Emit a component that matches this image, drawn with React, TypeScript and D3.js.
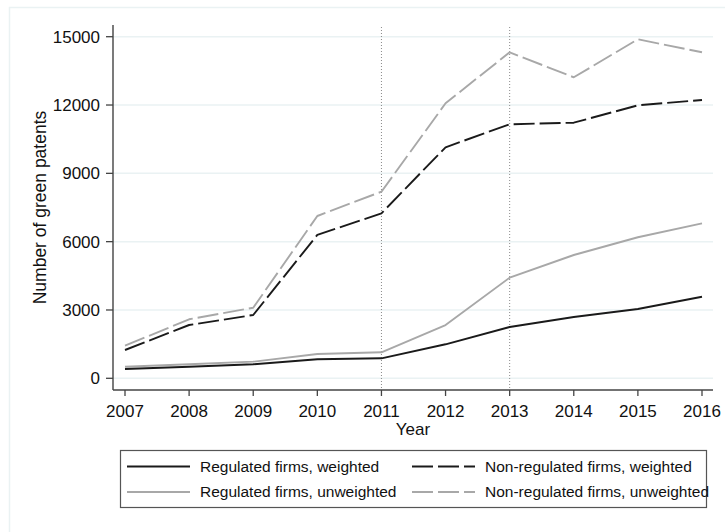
import React from "react";
import * as d3 from "d3";

const years = [2007, 2008, 2009, 2010, 2011, 2012, 2013, 2014, 2015, 2016];
const regWeighted = [408, 510, 615, 834, 878, 1493, 2253, 2692, 3043, 3583];
const regUnweighted = [510, 620, 730, 1067, 1142, 2340, 4418, 5414, 6192, 6806];
const nonRegWeighted = [1243, 2340, 2780, 6294, 7245, 10144, 11154, 11224, 11988, 12221];
const nonRegUnweighted = [1431, 2591, 3100, 7127, 8194, 12076, 14315, 13217, 14886, 14315];
const yTicks = [0, 3000, 6000, 9000, 12000, 15000];
const eventYears = [2011, 2013];

const seriesList = [
  { name: "Regulated firms, weighted", values: regWeighted, color: "#1a1a1a", dash: "none" },
  { name: "Non-regulated firms, weighted", values: nonRegWeighted, color: "#1a1a1a", dash: "21,5" },
  { name: "Regulated firms, unweighted", values: regUnweighted, color: "#a8a8a8", dash: "none" },
  { name: "Non-regulated firms, unweighted", values: nonRegUnweighted, color: "#a8a8a8", dash: "21,5" },
];

const FONT = "'Liberation Sans', Arial, sans-serif";

export default function App() {
  const W = 725, H = 532;
  const x = d3.scaleLinear().domain([2007, 2016]).range([125, 702]);
  const y = d3.scaleLinear().domain([0, 15000]).range([378.3, 36.7]);
  const axisLeft = 113, axisRight = 713, axisBottom = 390;
  const line = d3.line<number>().x((_, i) => x(years[i])).y((v) => y(v));

  const drawOrder = [seriesList[2], seriesList[3], seriesList[0], seriesList[1]];

  const legendRows = [
    [seriesList[0], seriesList[1]],
    [seriesList[2], seriesList[3]],
  ];
  const legendRowY = [466.5, 492];
  const legendCols = [{ x1: 127, x2: 190, tx: 200 }, { x1: 412, x2: 475, tx: 485 }];

  return (
    <svg width={W} height={H} style={{ position: "absolute", left: 0, top: 0, background: "#fff" }}>
      <rect x={0} y={0} width={W} height={H} fill="#fff" />
      <rect x={9.5} y={7.5} width={W + 20} height={H + 20} fill="none" stroke="#eaf2f3" strokeWidth={1.5} />
      {yTicks.map((t) => (
        <line key={"g" + t} x1={axisLeft} x2={axisRight} y1={y(t)} y2={y(t)} stroke="#eaf2f3" strokeWidth={1.5} />
      ))}
      {eventYears.map((yr) => (
        <line key={"e" + yr} x1={x(yr)} x2={x(yr)} y1={27} y2={axisBottom} stroke="#8a8a8a" strokeWidth={1} strokeDasharray="1,2" />
      ))}
      {drawOrder.map((s) => (
        <path key={s.name} d={line(s.values) || ""} fill="none" stroke={s.color} strokeWidth={1.9}
          strokeDasharray={s.dash} strokeLinejoin="round" />
      ))}
      <line x1={axisLeft} x2={axisLeft} y1={25} y2={axisBottom} stroke="#333" strokeWidth={1.3} />
      <line x1={axisLeft} x2={axisRight} y1={axisBottom} y2={axisBottom} stroke="#444" strokeWidth={1.3} />
      {yTicks.map((t) => (
        <g key={"yt" + t}>
          <line x1={106} x2={axisLeft} y1={y(t)} y2={y(t)} stroke="#444" strokeWidth={1.3} />
          <text x={100} y={y(t)} dy="0.35em" textAnchor="end" fontFamily={FONT} fontSize={17} fill="#111">{t}</text>
        </g>
      ))}
      {years.map((yr) => (
        <g key={"xt" + yr}>
          <line x1={x(yr)} x2={x(yr)} y1={axisBottom} y2={axisBottom + 6} stroke="#444" strokeWidth={1.3} />
          <text x={x(yr)} y={417} textAnchor="middle" fontFamily={FONT} fontSize={17} fill="#111">{yr}</text>
        </g>
      ))}
      <text x={413} y={435} textAnchor="middle" fontFamily={FONT} fontSize={17} fill="#111">Year</text>
      <text transform={`translate(46,${(y(0) + y(15000)) / 2}) rotate(-90)`} textAnchor="middle" fontFamily={FONT} fontSize={17.5} fill="#111">
        Number of green patents
      </text>
      <rect x={120.5} y={450.5} width={586} height={57} fill="#fff" stroke="#555" strokeWidth={1.2} />
      {legendRows.map((row, ri) =>
        row.map((s, ci) => (
          <g key={s.name}>
            <line x1={legendCols[ci].x1} x2={legendCols[ci].x2} y1={legendRowY[ri]} y2={legendRowY[ri]}
              stroke={s.color} strokeWidth={1.9} strokeDasharray={s.dash} />
            <text x={legendCols[ci].tx} y={legendRowY[ri]} dy="0.35em" fontFamily={FONT} fontSize={15.5} fill="#111">{s.name}</text>
          </g>
        ))
      )}
    </svg>
  );
}
